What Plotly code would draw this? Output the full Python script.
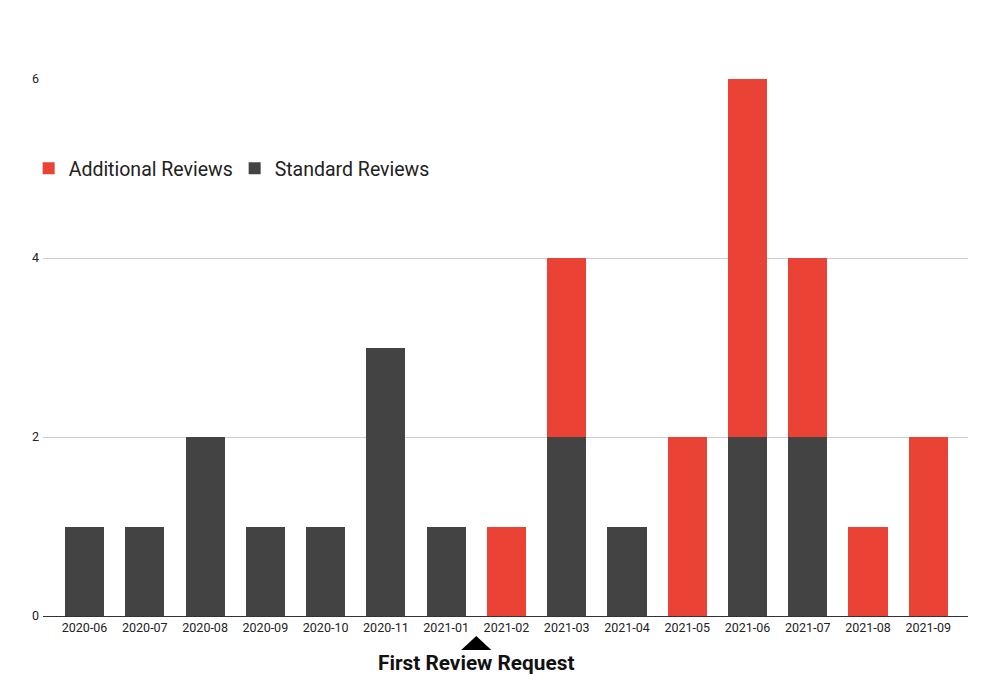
import plotly.graph_objects as go

months = ["2020-06", "2020-07", "2020-08", "2020-09", "2020-10", "2020-11", "2021-01",
          "2021-02", "2021-03", "2021-04", "2021-05", "2021-06", "2021-07", "2021-08", "2021-09"]
standard_reviews = [1, 1, 2, 1, 1, 3, 1, 0, 2, 1, 0, 2, 2, 0, 0]
additional_reviews = [0, 0, 0, 0, 0, 0, 0, 1, 2, 0, 2, 4, 2, 1, 2]
y_ticks = [0, 2, 4, 6]
marker_position = 6.5  # between 2021-01 and 2021-02
annotation_text = "First Review Request"

fig = go.Figure()
fig.add_trace(go.Bar(x=months, y=standard_reviews, name="Standard Reviews",
                     marker=dict(color="#434343", line=dict(width=0)), width=0.65))
fig.add_trace(go.Bar(x=months, y=additional_reviews, name="Additional Reviews",
                     marker=dict(color="#EA4335", line=dict(width=0)), width=0.65))

fig.update_layout(
    barmode="stack",
    width=992, height=700,
    margin=dict(l=35, r=32, t=71, b=92),
    plot_bgcolor="white", paper_bgcolor="white",
    font=dict(family="Roboto, Arial, sans-serif", color="#222222", size=12.5),
    showlegend=True,
    legend=dict(orientation="h", x=-0.0155, y=0.833, xanchor="left", yanchor="middle",
                traceorder="reversed", font=dict(size=19.5, color="#222222"),
                bgcolor="rgba(0,0,0,0)", itemwidth=30, entrywidth=161),
    xaxis=dict(type="category", range=[-0.69, 14.66], showgrid=False,
               showline=True, linecolor="#333333", linewidth=1, ticks="",
               tickfont=dict(size=12.5, color="#222222")),
    yaxis=dict(range=[0, 6], tickvals=y_ticks, showgrid=True, gridcolor="#cccccc",
               gridwidth=1, zeroline=False, showline=False, ticks="",
               tickfont=dict(size=12.5, color="#222222"), ticklabelstandoff=3),
    bargap=0.35,
)

fig.add_shape(type="path", xref="x", yref="paper",
              path=f"M {marker_position - 0.25},-0.0633 L {marker_position},-0.0372 L {marker_position + 0.25},-0.0633 Z",
              fillcolor="#000000", line=dict(width=0))
fig.add_annotation(x=marker_position, xref="x", y=-0.0875, yref="paper",
                   text=f"<b>{annotation_text}</b>", showarrow=False,
                   font=dict(size=20.8, color="#111111", family="Roboto, Arial, sans-serif"),
                   xanchor="center", yanchor="middle")

fig.write_html("out.html")
